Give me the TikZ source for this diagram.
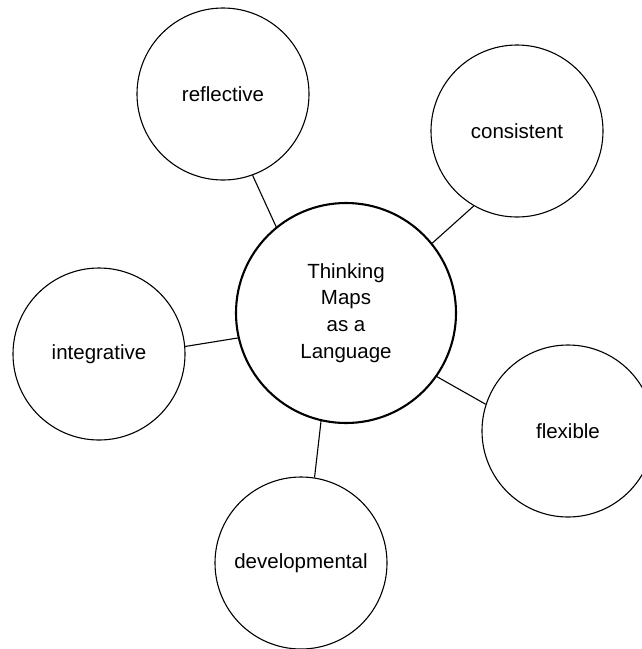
\documentclass[tikz,border=0pt]{standalone}
\usepackage{fontspec}
\setmainfont{Liberation Sans}
\usepackage{tikz}

\begin{document}
\begin{tikzpicture}[x=1pt,y=-1pt]
		\tikzstyle{hub}=[circle, draw=black, line width=2.1pt, minimum size=220pt, inner sep=0pt, align=center, font=\fontsize{20.5}{26.7}\selectfont]
		\tikzstyle{leaf}=[circle, draw=black, line width=1.1pt, minimum size=172pt, inner sep=0pt, font=\fontsize{20.5}{24}\selectfont]
		\tikzstyle{link}=[line width=1.1pt]

		\useasboundingbox (0,0) rectangle (641,649);

		\node [hub] (lang) at (346,313) {Thinking\\Maps\\as a\\Language};
		\node [leaf] (refl) at (223,94) {reflective};
		\node [leaf] (cons) at (517,131) {consistent};
		\node [leaf] (integ) at (99,354) {integrative};
		\node [leaf] (flex) at (568,431) {flexible};
		\node [leaf] (devel) at (301,563) {developmental};

		\draw [link] (refl.-70) -- (lang.129);
		\draw [link] (cons.240) -- (lang.39);
		\draw [link] (integ.5) -- (lang.193);
		\draw [link] (flex.162) -- (lang.325);
		\draw [link] (devel.81) -- (lang.257);
	\end{tikzpicture}
\end{document}
